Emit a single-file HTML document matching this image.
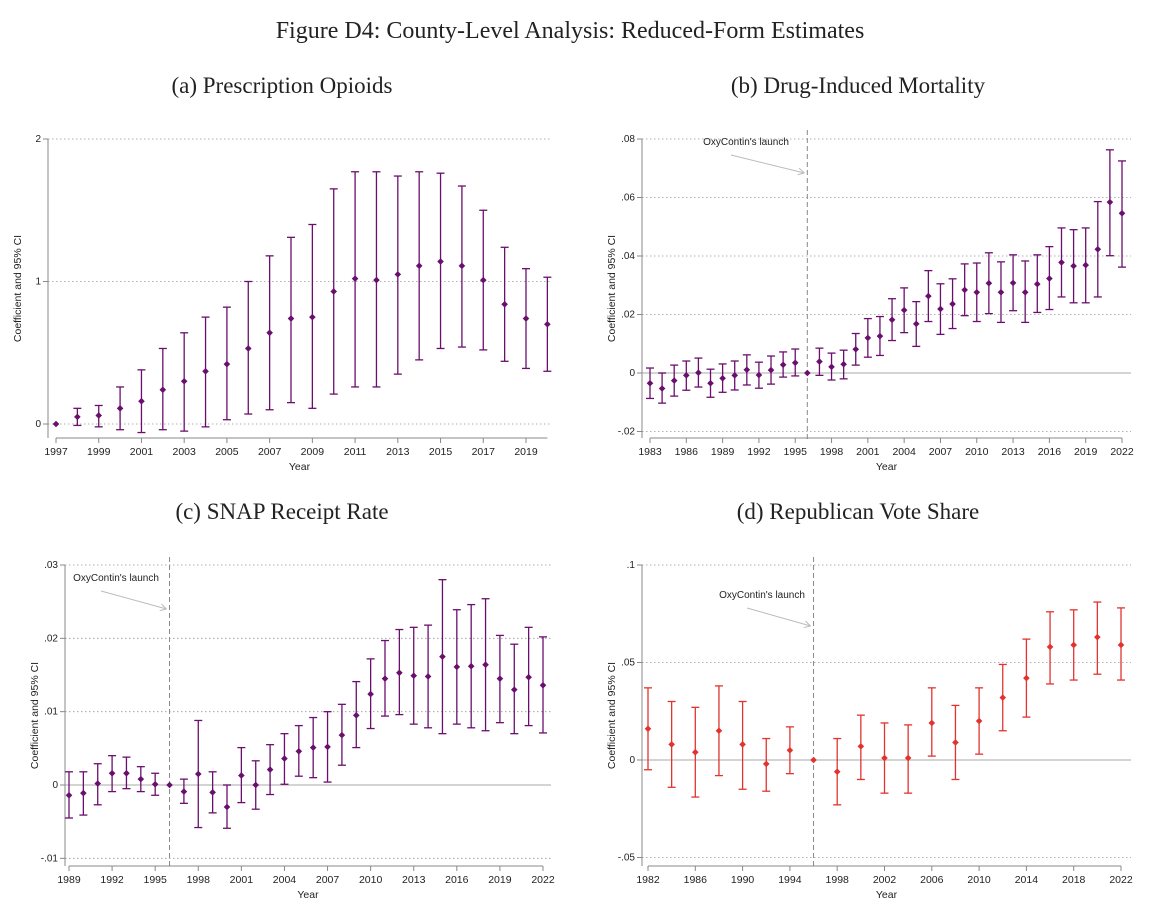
<!DOCTYPE html>
<html><head><meta charset="utf-8"><style>
html,body{margin:0;padding:0;background:#fff;}
svg{display:block;}
.serif{font-family:"Liberation Serif",serif;}
.sans{font-family:"Liberation Sans",sans-serif;}
</style></head><body>
<svg id="fig" width="1157" height="914" viewBox="0 0 1157 914">
<text class="serif" x="570" y="38" text-anchor="middle" font-size="24" fill="#222">Figure D4: County-Level Analysis: Reduced-Form Estimates</text>
<text class="serif" x="282" y="93" text-anchor="middle" font-size="23" fill="#222">(a) Prescription Opioids</text>
<text class="serif" x="858" y="93" text-anchor="middle" font-size="23" fill="#222">(b) Drug-Induced Mortality</text>
<text class="serif" x="282" y="519" text-anchor="middle" font-size="23" fill="#222">(c) SNAP Receipt Rate</text>
<text class="serif" x="858" y="519" text-anchor="middle" font-size="23" fill="#222">(d) Republican Vote Share</text>
</svg>
<script>
// Panel A
const aYears=[1997,1998,1999,2000,2001,2002,2003,2004,2005,2006,2007,2008,2009,2010,2011,2012,2013,2014,2015,2016,2017,2018,2019,2020];
const aCoef=[0,.05,.06,.11,.16,.24,.30,.37,.42,.53,.64,.74,.75,.93,1.02,1.01,1.05,1.11,1.14,1.11,1.01,.84,.74,.70];
const aLo=[0,-.01,-.02,-.04,-.06,-.04,-.05,-.02,.03,.07,.10,.15,.11,.21,.26,.26,.35,.45,.53,.54,.52,.44,.39,.37];
const aHi=[0,.11,.13,.26,.38,.53,.64,.75,.82,1.0,1.18,1.31,1.40,1.65,1.77,1.77,1.74,1.77,1.76,1.67,1.50,1.24,1.09,1.03];
const aXTicks=[1997,1999,2001,2003,2005,2007,2009,2011,2013,2015,2017,2019];
const aYTicks=[0,1,2];
const aYLabels=["0","1","2"];
// Panel B
const bYears=[1983,1984,1985,1986,1987,1988,1989,1990,1991,1992,1993,1994,1995,1996,1997,1998,1999,2000,2001,2002,2003,2004,2005,2006,2007,2008,2009,2010,2011,2012,2013,2014,2015,2016,2017,2018,2019,2020,2021,2022];
const bCoef=[-.0035,-.0053,-.0026,-.0008,.0001,-.0035,-.0018,-.0008,.0011,-.0007,.001,.0028,.0035,0,.0039,.0021,.003,.0081,.012,.0126,.0182,.0215,.0168,.0263,.0219,.0236,.0284,.0276,.0307,.0276,.0308,.0276,.0304,.0323,.0378,.0366,.0369,.0423,.0584,.0546];
const bLo=[-.0087,-.0103,-.0079,-.0059,-.0048,-.0083,-.0066,-.0058,-.0041,-.0052,-.0038,-.0014,-.001,0,-.0008,-.0024,-.002,.0027,.0054,.006,.0111,.0138,.0091,.0176,.0132,.0152,.0196,.0176,.0203,.0173,.0213,.0173,.0207,.0217,.026,.024,.024,.026,.0401,.0362];
const bHi=[.0017,0,.0027,.0041,.0051,.0013,.0031,.0041,.0062,.0037,.0058,.0072,.0082,0,.0085,.0068,.0078,.0135,.0186,.0193,.0254,.0291,.0244,.035,.0305,.0322,.0373,.0376,.0411,.038,.0404,.0383,.0404,.0432,.0496,.049,.0496,.0586,.0763,.0725];
const bXTicks=[1983,1986,1989,1992,1995,1998,2001,2004,2007,2010,2013,2016,2019,2022];
const bYTicks=[-.02,0,.02,.04,.06,.08];
const bYLabels=["-.02","0",".02",".04",".06",".08"];
// Panel C
const cYears=[1989,1990,1991,1992,1993,1994,1995,1996,1997,1998,1999,2000,2001,2002,2003,2004,2005,2006,2007,2008,2009,2010,2011,2012,2013,2014,2015,2016,2017,2018,2019,2020,2021,2022];
const cCoef=[-.0014,-.0011,.0002,.0016,.0016,.0008,.0001,0,-.0009,.0015,-.001,-.003,.0013,0,.0021,.0036,.0046,.0051,.0052,.0068,.0095,.0124,.0145,.0153,.0149,.0148,.0175,.0161,.0162,.0164,.0145,.013,.0147,.0136];
const cLo=[-.0045,-.0041,-.0027,-.0009,-.0005,-.0009,-.0014,0,-.0025,-.0058,-.0038,-.0059,-.0024,-.0033,-.0013,.0001,.0012,.001,.0004,.0027,.0051,.0077,.0094,.0096,.0083,.0078,.007,.0083,.0078,.0074,.0085,.007,.0081,.0071];
const cHi=[.0018,.0018,.0029,.004,.0038,.0025,.0016,0,.0008,.0088,.0018,0,.0051,.0033,.0055,.007,.0081,.0092,.01,.011,.0141,.0172,.0197,.0212,.0215,.0218,.028,.0239,.0246,.0254,.0204,.0192,.0215,.0202];
const cXTicks=[1989,1992,1995,1998,2001,2004,2007,2010,2013,2016,2019,2022];
const cYTicks=[-.01,0,.01,.02,.03];
const cYLabels=["-.01","0",".01",".02",".03"];
// Panel D
const dYears=[1982,1984,1986,1988,1990,1992,1994,1996,1998,2000,2002,2004,2006,2008,2010,2012,2014,2016,2018,2020,2022];
const dCoef=[.016,.008,.004,.015,.008,-.002,.005,0,-.006,.007,.001,.001,.019,.009,.02,.032,.042,.058,.059,.063,.059];
const dLo=[-.005,-.014,-.019,-.008,-.015,-.016,-.007,0,-.023,-.01,-.017,-.017,.002,-.01,.003,.015,.022,.039,.041,.044,.041];
const dHi=[.037,.03,.027,.038,.03,.011,.017,0,.011,.023,.019,.018,.037,.028,.037,.049,.062,.076,.077,.081,.078];
const dXTicks=[1982,1986,1990,1994,1998,2002,2006,2010,2014,2018,2022];
const dYTicks=[-.05,0,.05,.1];
const dYLabels=["-.05","0",".05",".1"];

const NS="http://www.w3.org/2000/svg";
const svg=document.getElementById('fig');
function mk(tag,attrs,parent){const e=document.createElementNS(NS,tag);for(const k in attrs)e.setAttribute(k,attrs[k]);(parent||svg).appendChild(e);return e;}

function panel(id,P,years,coef,lo,hi,xt,yt,yl,color){
  const g=mk('g',{});
  
  
  const X=v=>P.x0+(v-P.v0)*(P.x1-P.x0)/(P.v1-P.v0);
  const Y=v=>P.y0+(v-P.w0)*(P.y1-P.y0)/(P.w1-P.w0);
  // gridlines
  yt.forEach((t,i)=>{
    const isZero=(t===0 && P.zeroSolid);
    const ln=mk('line',{x1:P.left,x2:P.right,y1:Y(t),y2:Y(t),stroke:isZero?'#bbb':'#999','stroke-width':isZero?1.2:0.8,'stroke-dasharray':isZero?'':'1.5,2.5'},g);
    
    
    mk('line',{x1:P.left-5,x2:P.left,y1:Y(t),y2:Y(t),stroke:'#888','stroke-width':1},g);
    const tx=mk('text',{x:P.left-7,y:Y(t)+3,'text-anchor':'end','font-size':10,fill:'#222',class:'sans'},g);
    tx.textContent=yl[i];
    
    
  });
  // axes
  const ya=mk('line',{x1:P.left,x2:P.left,y1:P.axTop,y2:P.axis,stroke:'#888','stroke-width':1},g);
  
  
  const xa=mk('line',{x1:X(P.v0),x2:X(xt[xt.length-1]>P.vEnd?xt[xt.length-1]:P.vEnd),y1:P.axis,y2:P.axis,stroke:'#888','stroke-width':1},g);
  
  
  xt.forEach(t=>{
    mk('line',{x1:X(t),x2:X(t),y1:P.axis,y2:P.axis+5,stroke:'#888','stroke-width':1},g);
    const tx=mk('text',{x:X(t),y:P.axis+17,'text-anchor':'middle','font-size':10.5,fill:'#222',class:'sans'},g);
    tx.textContent=t;
    
    
  });
  const xl=mk('text',{x:(P.left+P.right)/2,y:P.axis+32,'text-anchor':'middle','font-size':10.5,fill:'#222',class:'sans'},g);
  xl.textContent='Year';
  
  
  const cy=(P.axTop+P.axis)/2;
  const yl2=mk('text',{x:P.left-27,y:cy,'text-anchor':'middle','font-size':10.5,fill:'#222',class:'sans',transform:`rotate(-90 ${P.left-27} ${cy})`},g);
  yl2.textContent='Coefficient and 95% CI';
  
  
  if(P.launch){
    const vx=X(1996);
    const vl=mk('line',{x1:vx,x2:vx,y1:P.vTop,y2:P.axis+3,stroke:'#888','stroke-width':1,'stroke-dasharray':'5,3'},g);
    
    
    const at=mk('text',{x:P.annX,y:P.annY,'text-anchor':'middle','font-size':10,fill:'#222',class:'sans'},g);
    at.textContent="OxyContin's launch";
    
    
    const ax1=P.annX-15, ay1=P.annY+10, ax2=vx-3, ay2=P.annY+28;
    const ar=mk('line',{x1:ax1,y1:ay1,x2:ax2,y2:ay2,stroke:'#bbb','stroke-width':1},g);
    
    
    const ang=Math.atan2(ay2-ay1,ax2-ax1);
    [0.5,-0.5].forEach(d=>mk('line',{x1:ax2,y1:ay2,x2:ax2-7*Math.cos(ang+d),y2:ay2-7*Math.sin(ang+d),stroke:'#bbb','stroke-width':1},g));
  }
  years.forEach((yr,i)=>{
    const x=X(yr);
    const eb=mk('g',{stroke:color,'stroke-width':1.3},g);
    
    
    if(hi[i]!==lo[i]){
      mk('line',{x1:x,x2:x,y1:Y(lo[i]),y2:Y(hi[i])},eb);
      mk('line',{x1:x-4,x2:x+4,y1:Y(lo[i]),y2:Y(lo[i])},eb);
      mk('line',{x1:x-4,x2:x+4,y1:Y(hi[i]),y2:Y(hi[i])},eb);
    }
    const yy=Y(coef[i]);
    const pt=mk('polygon',{points:`${x},${yy-3.3} ${x+3.3},${yy} ${x},${yy+3.3} ${x-3.3},${yy}`,fill:color},g);
    
    
  });
}
const PUR='#6b0f6e', RED='#e2332f';
panel('a',{x0:56,x1:526,v0:1997,v1:2019,vEnd:2020,y0:424,y1:139,w0:0,w1:2,left:48,right:551,axTop:139,axis:438,zeroSolid:false,launch:false},aYears,aCoef,aLo,aHi,aXTicks,aYTicks,aYLabels,PUR);
panel('b',{x0:650,x1:1122,v0:1983,v1:2022,vEnd:2022,y0:373,y1:139,w0:0,w1:.08,left:642,right:1131,axTop:139,axis:438,zeroSolid:true,launch:true,vTop:130,annX:746,annY:145},bYears,bCoef,bLo,bHi,bXTicks,bYTicks,bYLabels,PUR);
panel('c',{x0:69,x1:543,v0:1989,v1:2022,vEnd:2022,y0:785,y1:565,w0:0,w1:.03,left:65,right:551,axTop:565,axis:866,zeroSolid:true,launch:true,vTop:557,annX:116,annY:581},cYears,cCoef,cLo,cHi,cXTicks,cYTicks,cYLabels,PUR);
panel('d',{x0:648,x1:1121,v0:1982,v1:2022,vEnd:2022,y0:760,y1:565,w0:0,w1:.1,left:642,right:1131,axTop:565,axis:866,zeroSolid:true,launch:true,vTop:557,annX:762,annY:598},dYears,dCoef,dLo,dHi,dXTicks,dYTicks,dYLabels,RED);
</script>
</body></html>
